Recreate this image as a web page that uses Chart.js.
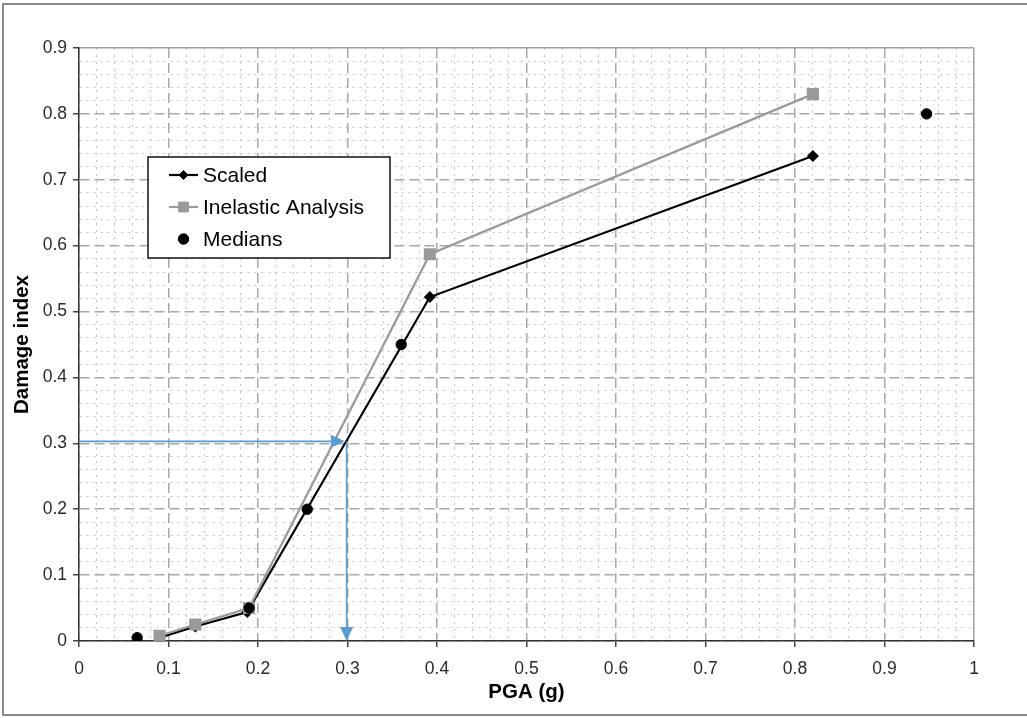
<!DOCTYPE html>
<html><head><meta charset="utf-8">
<script src="https://cdn.jsdelivr.net/npm/chart.js@4.4.1/dist/chart.umd.min.js"></script>
<style>
html,body{margin:0;padding:0;background:#fff;}
#wrap{position:relative;width:1027px;height:718px;overflow:hidden;}
#frame{position:absolute;left:2px;top:3px;width:1060px;height:713px;border:2px solid #8a8a8a;box-sizing:border-box;}
canvas{position:absolute;left:0;top:0;}
</style></head><body>
<div id="wrap"><div id="frame"></div><canvas id="c" width="1027" height="718"></canvas></div>
<script>
// ---- data ----
const scaledX = [0.09, 0.13, 0.188, 0.392, 0.82];
const scaledY = [0.005, 0.022, 0.044, 0.522, 0.736];
const inelasticX = [0.09, 0.13, 0.19, 0.392, 0.82];
const inelasticY = [0.008, 0.025, 0.05, 0.587, 0.83];
const medianX = [0.065, 0.19, 0.255, 0.36, 0.947];
const medianY = [0.005, 0.05, 0.2, 0.45, 0.8];
const seriesLabels = ['Scaled', 'Inelastic Analysis', 'Medians'];
const xTickLabels = ['0','0.1','0.2','0.3','0.4','0.5','0.6','0.7','0.8','0.9','1'];
const yTickLabels = ['0','0.1','0.2','0.3','0.4','0.5','0.6','0.7','0.8','0.9'];
// read-off arrows (PGA for DI = 0.3)
const arrowHFrom = [0, 0.303];
const arrowHTo = [0.297, 0.303];
const arrowVFrom = [0.299, 0.303];
const arrowVTo = [0.299, 0];

const FONT = '"Liberation Sans", Arial, Helvetica, sans-serif';
const pts = (xs, ys) => xs.map((x, i) => ({x: x, y: ys[i]}));
const isMajor = v => Math.abs(v * 10 - Math.round(v * 10)) < 1e-6;
const isEnd = (v, max) => Math.abs(v - max) < 1e-6;

function gridColor(max) {
  return c => {
    const v = c.tick ? c.tick.value : 0;
    if (isEnd(v, max)) return '#a0a0a0';
    return isMajor(v) ? '#a8a8a8' : '#c2c2c2';
  };
}
function gridWidth(max) {
  return c => {
    const v = c.tick ? c.tick.value : 0;
    if (isEnd(v, max)) return 1.5;
    return isMajor(v) ? 1.5 : 1;
  };
}
function gridDash(max) {
  return c => {
    const v = c.tick ? c.tick.value : 0;
    if (isEnd(v, max)) return [];
    return isMajor(v) ? [10, 5] : [2, 5];
  };
}
function tickCol(c) {
  const v = c.tick ? c.tick.value : 0;
  return isMajor(v) ? '#444' : 'rgba(0,0,0,0)';
}

const overlay = {
  id: 'overlay',
  afterDatasetsDraw(chart) {
    const ctx = chart.ctx, xs = chart.scales.x, ys = chart.scales.y;
    const P = (a) => [xs.getPixelForValue(a[0]), ys.getPixelForValue(a[1])];
    function arrow(a, b) {
      const [x1, y1] = P(a), [x2, y2] = P(b);
      const ang = Math.atan2(y2 - y1, x2 - x1);
      const L = 14, W = 6.5;
      const bx = x2 - L * Math.cos(ang), by = y2 - L * Math.sin(ang);
      ctx.save();
      ctx.strokeStyle = '#5b9bd5'; ctx.fillStyle = '#5b9bd5'; ctx.lineWidth = 1.6;
      ctx.beginPath(); ctx.moveTo(x1, y1); ctx.lineTo(bx, by); ctx.stroke();
      ctx.beginPath();
      ctx.moveTo(x2, y2);
      ctx.lineTo(bx + W * Math.sin(ang), by - W * Math.cos(ang));
      ctx.lineTo(bx - W * Math.sin(ang), by + W * Math.cos(ang));
      ctx.closePath(); ctx.fill();
      ctx.restore();
    }
    arrow(arrowHFrom, arrowHTo);
    arrow(arrowVFrom, arrowVTo);

    // legend box
    const ca = chart.chartArea;
    const lx = ca.left + 69, ly = ca.top + 109, lw = 242, lh = 101;
    ctx.save();
    ctx.fillStyle = '#fff';
    ctx.fillRect(lx, ly, lw, lh);
    ctx.strokeStyle = '#111'; ctx.lineWidth = 1.5;
    ctx.strokeRect(lx, ly, lw, lh);
    const order = [2, 1, 0];
    ctx.font = '21px ' + FONT;
    ctx.textBaseline = 'middle';
    ctx.textAlign = 'left';
    order.forEach((di, k) => {
      const ds = chart.data.datasets[di];
      const cy = ly + 18 + k * 32;
      const sx1 = lx + 21, sx2 = lx + 50, cx = (sx1 + sx2) / 2;
      if (ds.showLine) {
        ctx.strokeStyle = ds.borderColor; ctx.lineWidth = ds.borderWidth;
        ctx.beginPath(); ctx.moveTo(sx1, cy); ctx.lineTo(sx2, cy); ctx.stroke();
      }
      ctx.fillStyle = ds.pointBackgroundColor;
      ctx.strokeStyle = ds.pointBorderColor;
      ctx.lineWidth = 1;
      Chart.helpers.drawPoint(ctx, {
        pointStyle: ds.pointStyle, radius: ds.pointRadius, rotation: 0, borderWidth: 1
      }, cx, cy);
      ctx.fillStyle = '#000';
      ctx.fillText(ds.label, lx + 55, cy + 1);
    });
    ctx.restore();
  }
};

const chart = new Chart(document.getElementById('c'), {
  type: 'scatter',
  data: {
    datasets: [
      {
        label: seriesLabels[2], data: pts(medianX, medianY), showLine: false,
        pointStyle: 'circle', pointRadius: 5.2, pointBackgroundColor: '#000', pointBorderColor: '#000',
        borderColor: '#000', backgroundColor: '#000'
      },
      {
        label: seriesLabels[1], data: pts(inelasticX, inelasticY), showLine: true,
        borderColor: '#9a9a9a', borderWidth: 2.2, backgroundColor: '#9a9a9a',
        pointStyle: 'rect', pointRadius: 7, pointBackgroundColor: '#9a9a9a', pointBorderColor: '#9a9a9a'
      },
      {
        label: seriesLabels[0], data: pts(scaledX, scaledY), showLine: true,
        borderColor: '#000', borderWidth: 2.2, backgroundColor: '#000',
        pointStyle: 'rectRot', pointRadius: 4.5, pointBackgroundColor: '#000', pointBorderColor: '#000'
      }
    ]
  },
  options: {
    responsive: false,
    animation: false,
    devicePixelRatio: 1,
    layout: {padding: {left: 10, top: 48, right: 53, bottom: 13}},
    plugins: {legend: {display: false}, tooltip: {enabled: false}},
    scales: {
      x: {
        type: 'linear', position: 'bottom', min: 0, max: 1,
        ticks: {
          stepSize: 0.02, autoSkip: false, maxRotation: 0, minRotation: 0, padding: 12,
          color: '#2a2a2a', font: {family: FONT, size: 17.5},
          callback: v => isMajor(v) ? xTickLabels[Math.round(v * 10)] : ''
        },
        grid: {color: gridColor(1), lineWidth: gridWidth(1), tickLength: 6, tickColor: tickCol, tickWidth: 1.5},
        border: {color: '#333', width: 1.5, dash: gridDash(1)},
        title: {display: true, text: 'PGA (g)', color: '#000', font: {family: FONT, size: 20.5, weight: 'bold'}, padding: {top: 0, bottom: 0}},
        afterFit: s => { s.height = 64; }
      },
      y: {
        type: 'linear', position: 'left', min: 0, max: 0.9,
        ticks: {
          stepSize: 0.02, autoSkip: false, padding: 6,
          color: '#2a2a2a', font: {family: FONT, size: 17.5},
          callback: v => isMajor(v) ? yTickLabels[Math.round(v * 10)] : ''
        },
        grid: {color: gridColor(0.9), lineWidth: gridWidth(0.9), tickLength: 6, tickColor: tickCol, tickWidth: 1.5},
        border: {color: '#333', width: 1.5, dash: gridDash(0.9)},
        title: {display: true, text: 'Damage index', color: '#000', font: {family: FONT, size: 20.5, weight: 'bold'}, padding: {top: 0, bottom: 0}},
        afterFit: s => { s.width = 69; }
      }
    }
  },
  plugins: [overlay]
});
</script>
</body></html>
